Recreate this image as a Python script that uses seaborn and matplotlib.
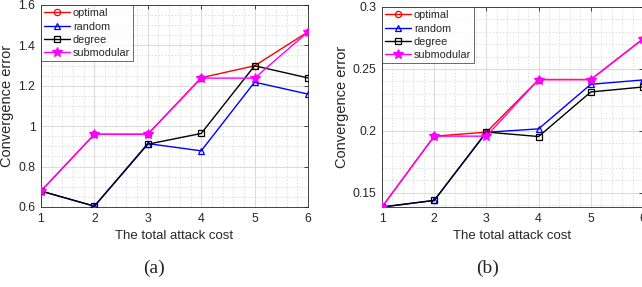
import numpy as np
import pandas as pd
import matplotlib
matplotlib.use("Agg")
import matplotlib.pyplot as plt
import seaborn as sns
from matplotlib.ticker import MultipleLocator, FuncFormatter

sns.set_style("white")
plt.rcParams['font.family'] = ['Liberation Sans', 'DejaVu Sans']

cost = [1, 2, 3, 4, 5, 6]
methods = ['optimal', 'random', 'degree', 'submodular']

# panel (a)
a_optimal = [0.679, 0.960, 0.960, 1.240, 1.299, 1.467]
a_random = [0.679, 0.604, 0.914, 0.878, 1.218, 1.159]
a_degree = [0.679, 0.604, 0.911, 0.964, 1.299, 1.239]
a_submodular = [0.679, 0.960, 0.960, 1.238, 1.238, 1.467]

# panel (b)
b_optimal = [0.1385, 0.1957, 0.1989, 0.2414, 0.2414, 0.2742]
b_random = [0.1385, 0.1438, 0.1988, 0.2016, 0.2376, 0.2411]
b_degree = [0.1385, 0.1438, 0.1990, 0.1954, 0.2314, 0.2354]
b_submodular = [0.1385, 0.1957, 0.1957, 0.2414, 0.2414, 0.2742]

colors = {'optimal': '#ff0000', 'random': '#0000ff', 'degree': '#000000', 'submodular': '#ff00ff'}
markers = {'optimal': 'o', 'random': '^', 'degree': 's', 'submodular': '*'}
msizes = {'optimal': 4.5, 'random': 5, 'degree': 4.5, 'submodular': 7}


def make_df(vals):
    rows = []
    for m, v in zip(methods, vals):
        for c, y in zip(cost, v):
            rows.append({'cost': c, 'error': y, 'method': m})
    return pd.DataFrame(rows)


df_a = make_df([a_optimal, a_random, a_degree, a_submodular])
df_b = make_df([b_optimal, b_random, b_degree, b_submodular])

fig = plt.figure(figsize=(6.42, 2.87), dpi=100)
ax1 = fig.add_axes([41 / 642, 80 / 287, 267 / 642, 202 / 287])
ax2 = fig.add_axes([382 / 642, 80 / 287, 261 / 642, 200 / 287])


def draw(ax, df, ylim, ymaj, ymin, yfmt):
    for m in methods:
        sub = df[df['method'] == m]
        face = colors[m] if m == 'submodular' else 'none'
        sns.lineplot(data=sub, x='cost', y='error', ax=ax, color=colors[m],
                     marker=markers[m], markersize=msizes[m], markerfacecolor=face,
                     markeredgecolor=colors[m], markeredgewidth=0.9, linewidth=1.0,
                     label=m, zorder=3)
    ax.set_xlim(1, 6)
    ax.set_ylim(*ylim)
    ax.xaxis.set_major_locator(MultipleLocator(1))
    ax.xaxis.set_minor_locator(MultipleLocator(0.2))
    ax.yaxis.set_major_locator(MultipleLocator(ymaj))
    ax.yaxis.set_minor_locator(MultipleLocator(ymin))
    ax.yaxis.set_major_formatter(yfmt)
    ax.grid(which='major', color='#dcdcdc', linewidth=0.8, linestyle='-')
    ax.grid(which='minor', color='#dcdcdc', linewidth=0.6, linestyle=(0, (2, 2)))
    ax.set_axisbelow(True)
    ax.tick_params(which='major', direction='in', length=3, width=0.6, labelsize=8.8,
                   colors='#262626', top=True, right=True, pad=4)
    ax.tick_params(which='minor', length=0, top=True, right=True)
    for s in ax.spines.values():
        s.set_color('#262626')
        s.set_linewidth(0.6)
    ax.set_xlabel('The total attack cost', fontsize=9.5, color='#262626', labelpad=4)
    ax.set_ylabel('Convergence error', fontsize=10.5, color='#262626', labelpad=3)
    leg = ax.legend(loc='upper left', fontsize=7.8, frameon=True, fancybox=False,
                    borderaxespad=0.0, handlelength=2.4, handletextpad=0.25,
                    labelspacing=0.3, borderpad=0.3)
    leg.get_frame().set_edgecolor('#262626')
    leg.get_frame().set_linewidth(0.6)


def fmt_a(v, pos):
    return '1' if abs(v - 1) < 1e-9 else f'{v:.1f}'


def fmt_b(v, pos):
    return f'{v:.2f}'.rstrip('0')


draw(ax1, df_a, (0.6, 1.6), 0.2, 0.05, FuncFormatter(fmt_a))
draw(ax2, df_b, (0.1385, 0.3), 0.05, 0.01, FuncFormatter(fmt_b))

fig.text(154 / 642, 1 - 268 / 287, '(a)', ha='center', va='center', fontsize=14,
         family='Liberation Serif')
fig.text(488 / 642, 1 - 268 / 287, '(b)', ha='center', va='center', fontsize=14,
         family='Liberation Serif')

fig.savefig('out.png', dpi=100)
